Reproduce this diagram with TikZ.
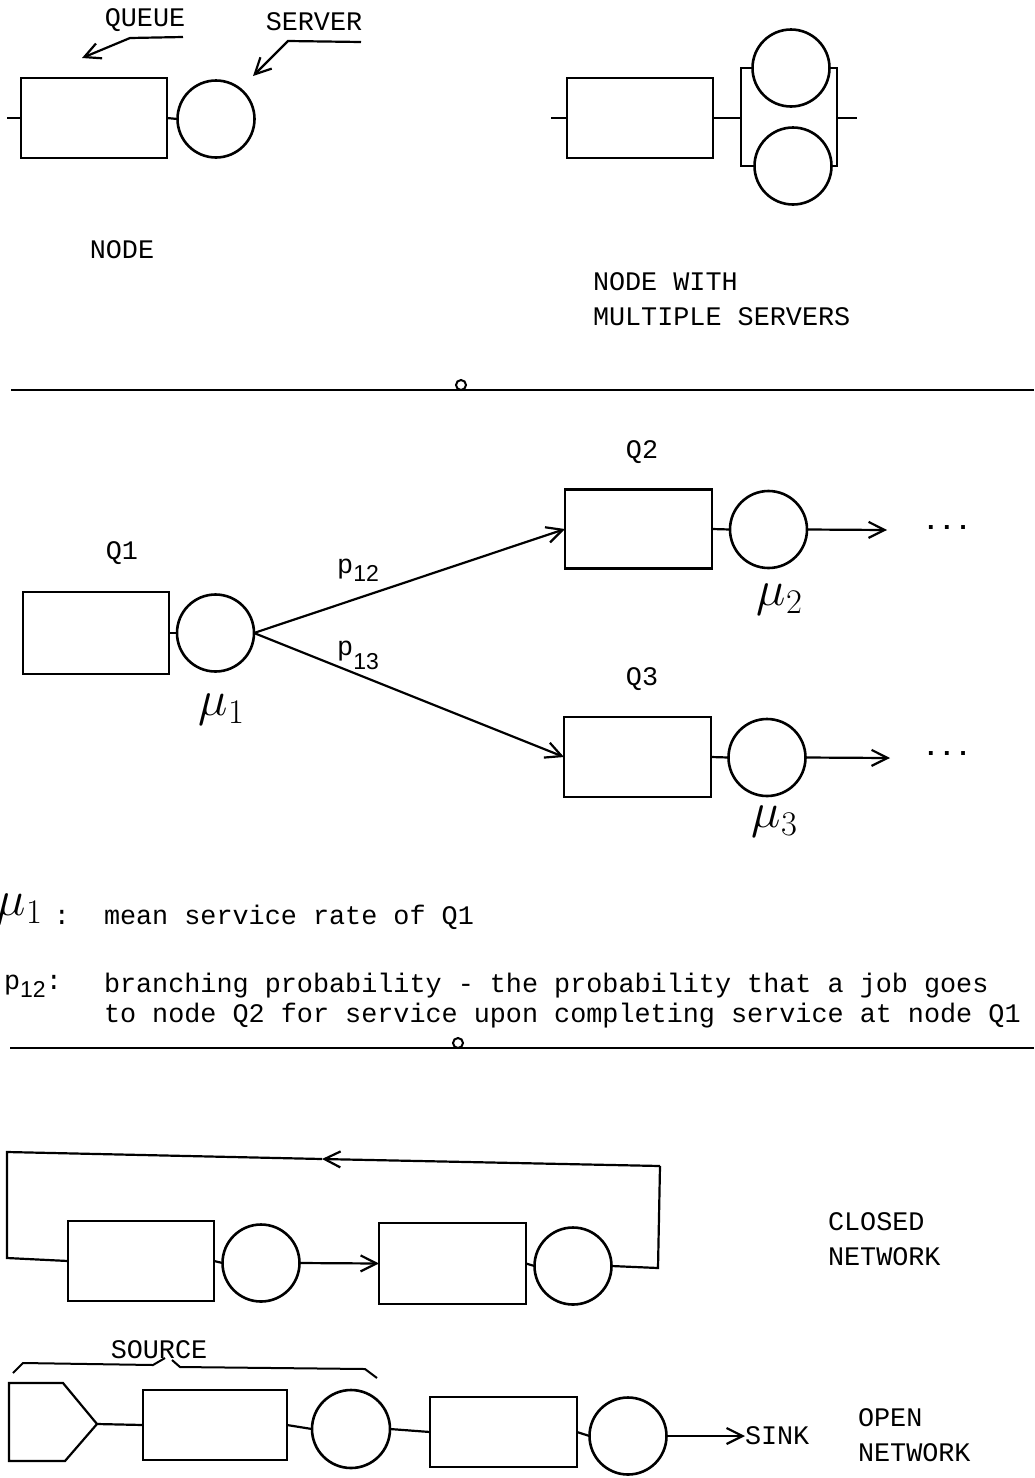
\documentclass[tikz,border=0pt]{standalone}
\usepackage{fontspec}
\setmonofont{Liberation Mono}
\newfontfamily\subsans{Liberation Sans}
\usetikzlibrary{arrows.meta}
\newcommand{\twfont}{\fontsize{13.4}{17.5}\selectfont\ttfamily}
\begin{document}
\begin{tikzpicture}[x=0.5pt,y=-0.5pt,
  line width=1.1pt,
  every node/.style={font=\twfont, inner sep=0pt, outer sep=0pt},
  queue/.style={draw, rectangle, minimum width=73pt, minimum height=40pt, line width=1.1pt},
  server/.style={draw, circle, minimum size=38.5pt, line width=1.3pt},
  barb/.style={-{Straight Barb[length=8pt,width=8pt,line width=1.1pt]}},
  mulabel/.style={font=\fontsize{24}{28}\selectfont},
  sepdot/.style={draw, circle, minimum size=5pt, fill=white, line width=1pt},
  textline/.style={anchor=west}
]
\useasboundingbox (0,0) rectangle (1034,1478);

% ---------- Section 1: node ----------
\node (lqueue) at (145,20) {QUEUE};
\node (lserver) at (314,22) {SERVER};
\node[queue] (q0) at (94,118) {};
\node[server] (s0) at (216,119) {};
\coordinate (in0) at (7,118);
\draw (in0) -- (q0.west);
\draw (q0.east) -- (s0.west);
\coordinate (qa1) at (183,37);
\coordinate (qa2) at (130,38);
\coordinate (qa3) at (82,58);
\draw[barb] (qa1) -- (qa2) -- (qa3);
\coordinate (sa1) at (361,42);
\coordinate (sa2) at (288,41);
\coordinate (sa3) at (253,76);
\draw[barb] (sa1) -- (sa2) -- (sa3);
\node (lnode) at (122,250) {NODE};

% multiple servers
\node[queue] (qm) at (640,118) {};
\node[server] (ts) at (791,68) {};
\node[server] (bs) at (793,166) {};
\coordinate (inm) at (551,118);
\coordinate (bl) at (741,118);
\coordinate (br) at (837,118);
\coordinate (outm) at (857,118);
\draw (inm) -- (qm.west);
\draw (qm.east) -- (bl);
\draw (ts.west) -| (bl) |- (bs.west);
\draw (ts.east) -| (br) |- (bs.east);
\draw (br) -- (outm);
\node[anchor=north west, align=left] (lmulti) at (593,273) {NODE WITH\\MULTIPLE SERVERS};

% separator 1
\coordinate (sepa) at (11,390);
\coordinate (sepb) at (1034,390);
\draw (sepa) -- (sepb);
\node[sepdot] (sd1) at (461,385) {};

% ---------- Section 2: branching ----------
\node (lq1) at (122,553) {Q1};
\node[queue, minimum height=41pt] (q1) at (96,633) {};
\node[server] (s1) at (215.5,633) {};
\draw (q1.east) -- (s1.west);

\node (lq2) at (642,452) {Q2};
\node[queue, minimum width=73.5pt, minimum height=39.5pt] (q2) at (638.5,529) {};
\node[server] (s2) at (768.5,529.5) {};
\draw (q2.east) -- (s2.west);

\node (lq3) at (642,679) {Q3};
\node[queue, minimum width=73.5pt] (q3) at (637.5,757) {};
\node[server] (s3) at (767,757.5) {};
\draw (q3.east) -- (s3.west);

\draw[barb] (s1.east) -- (q2.west);
\draw[barb] (s1.east) -- (q3.west);

\coordinate (o2) at (887,530);
\coordinate (o3) at (890,758);
\draw[barb] (s2.east) -- (o2);
\draw[barb] (s3.east) -- (o3);
\node[font=\fontsize{13.4}{16}\selectfont\ttfamily\bfseries] (d2) at (947,527) {...};
\node[font=\fontsize{13.4}{16}\selectfont\ttfamily\bfseries] (d3) at (947,753) {...};

\node (p12) at (358,570) {p\raisebox{-4pt}{\subsans\fontsize{11.5}{12}\selectfont 12}};
\node (p13) at (358,655) {\raisebox{4pt}{p}\raisebox{-3pt}{\subsans\fontsize{11.5}{12}\selectfont 13}};

\node[mulabel] (mu1) at (222,710) {$\mu_1$};
\node[mulabel] (mu2) at (780,600) {$\mu_2$};
\node[mulabel] (mu3) at (775,822) {$\mu_3$};

% legend
\node[mulabel] (lmu) at (20,910) {$\mu_1$};
\node (lmuc) at (62,917) {:};
\node[textline] (lmut) at (104,917) {mean service rate of Q1};
\node (lp) at (33,986) {p\raisebox{-4pt}{\subsans\fontsize{11.5}{12}\selectfont 12}:};
\node[textline] (lpt1) at (104,986) {branching probability - the probability that a job goes};
\node[textline] (lpt2) at (104,1016) {to node Q2 for service upon completing service at node Q1};

% separator 2
\coordinate (sepc) at (10,1048);
\coordinate (sepd) at (1034,1048);
\draw (sepc) -- (sepd);
\node[sepdot] (sd2) at (458,1043) {};

% ---------- Section 3: closed network ----------
\node[queue] (q4) at (141,1261) {};
\node[server] (s4) at (261,1263) {};
\node[queue, minimum width=73.5pt, minimum height=40.5pt] (q5) at (452.5,1263.5) {};
\node[server] (s5) at (573,1266) {};
\draw (q4.east) -- (s4.west);
\draw[barb] (s4.east) -- (q5.west);
\draw (q5.east) -- (s5.west);
\coordinate (cr1) at (658,1268);
\coordinate (cr2) at (660,1166);
\coordinate (cm) at (322,1159);
\coordinate (cl1) at (7,1152);
\coordinate (cl2) at (7,1258);
\draw (s5.east) -- (cr1) -- (cr2);
\draw[barb] (cr2) -- (cm);
\draw (cm) -- (cl1) -- (cl2) -- (q4.west);
\node[anchor=north west, align=left] (lclosed) at (828,1213) {CLOSED\\NETWORK};

% ---------- open network ----------
\node (lsource) at (159,1350) {SOURCE};
\coordinate (b1) at (13,1373);
\coordinate (b2) at (23,1363);
\coordinate (b3) at (153,1365);
\coordinate (b4) at (165,1358);
\coordinate (b5) at (172,1360);
\coordinate (b6) at (180,1367);
\coordinate (b7) at (365,1369);
\coordinate (b8) at (377,1378);
\draw[line width=1pt] (b1) -- (b2) -- (b3) -- (b4);
\draw[line width=1pt] (b5) -- (b6) -- (b7) -- (b8);

\coordinate (sp1) at (9,1383);
\coordinate (sp2) at (63,1383);
\coordinate (sptip) at (97,1424);
\coordinate (sp4) at (65,1461);
\coordinate (sp5) at (9,1461);
\draw (sp1) -- (sp2) -- (sptip) -- (sp4) -- (sp5) -- cycle;

\node[queue, minimum width=72pt, minimum height=35pt] (q6) at (215,1425) {};
\node[server, minimum size=39pt] (s6) at (351,1429) {};
\node[queue, minimum width=73.5pt, minimum height=35pt] (q7) at (503.5,1432) {};
\node[server] (s7) at (628,1436) {};
\draw (sptip) -- (q6.west);
\draw (q6.east) -- (s6.west);
\draw (s6.east) -- (q7.west);
\draw (q7.east) -- (s7.west);
\node[anchor=west] (sink) at (745,1436) {SINK};
\draw[barb] (s7.east) -- (sink.west);
\node[anchor=north west, align=left] (lopen) at (858,1409) {OPEN\\NETWORK};
\end{tikzpicture}
\end{document}
